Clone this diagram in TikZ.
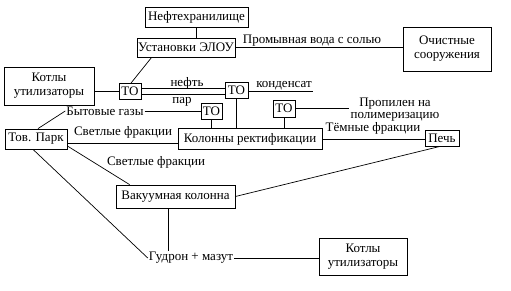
\documentclass[tikz,border=0pt]{standalone}
\usepackage{fontspec}
\setmainfont{Liberation Serif}
\usetikzlibrary{calc}
\begin{document}
\begin{tikzpicture}[x=1pt,y=-1pt,
  every node/.style={font=\fontsize{13}{14}\selectfont},
  box/.style={draw,line width=0.8pt,inner sep=0pt,align=center},
  lbl/.style={inner sep=1pt,align=center},
  conn/.style={line width=0.7pt}]
\useasboundingbox[fill=white] (0,0) rectangle (511,291);
% boxes
\node[box,minimum width=103,minimum height=20] (neft) at (196.5,17.5) {Нефтехранилище};
\node[box,minimum width=98,minimum height=19] (elou) at (186,47.5) {Установки ЭЛОУ};
\node[box,minimum width=88,minimum height=44] (ochist) at (447,49) {Очистные\\сооружения};
\node[box,minimum width=90,minimum height=38] (kotly1) at (49,86) {Котлы\\утилизаторы};
\node[box,minimum width=22,minimum height=16] (to1) at (130,91.5) {ТО};
\node[box,minimum width=23,minimum height=16] (to2) at (236.5,90) {ТО};
\node[box,minimum width=21,minimum height=16] (to3) at (211.5,111) {ТО};
\node[box,minimum width=22,minimum height=17] (to4) at (284,108.5) {ТО};
\node[box,minimum width=144,minimum height=21] (kolonny) at (250,139) {Колонны ректификации};
\node[box,minimum width=34,minimum height=16] (pech) at (442,138) {Печь};
\node[box,minimum width=62,minimum height=20] (tovpark) at (36,139) {Тов. Парк};
\node[box,minimum width=119,minimum height=23] (vakuum) at (175.5,196.5) {Вакуумная колонна};
\node[box,minimum width=88,minimum height=37] (kotly2) at (363,256.5) {Котлы\\утилизаторы};
% labels
\node[lbl] (promyv) at (312,41) {Промывная вода с солью};
\node[lbl] (neftl) at (187,83) {нефть};
\node[lbl] (par) at (182,102) {пар};
\node[lbl] (kond) at (284,85.5) {конденсат};
\node[lbl] (bytgaz) at (105,111) {Бытовые газы};
\node[lbl] (svet1) at (123,132) {Светлые фракции};
\node[lbl,font=\fontsize{13}{12}\selectfont] (propilen) at (395,110) {Пропилен на\\полимеризацию};
\node[lbl] (temnye) at (373,128) {Тёмные фракции};
\node[lbl] (svet2) at (156,162) {Светлые фракции};
\node[lbl] (gudron) at (191,258) {Гудрон + мазут};
\coordinate (kend) at (313,91);
% connectors
\draw[conn] (neft.south) -- (neft.south |- elou.north);
\draw[conn] (elou.east) -- (elou.east -| ochist.west);
\draw[conn] ($(elou.south west)+(15,0)$) -- ($(to1.north)+(1,0)$);
\draw[conn] (to1.west) -- (to1.west -| kotly1.east);
\draw[conn] (to1.east |- 0,88) -- (to2.west |- 0,88);
\draw[conn] (to1.east |- 0,94) -- (to2.west |- 0,94);
\draw[conn] (to2.east |- kend) -- (kend);
\draw[conn] (to2.south) -- (to2.south |- kolonny.north);
\draw[conn] (to3.south) -- (to3.south |- kolonny.north);
\draw[conn] (to4.south) -- (to4.south |- kolonny.north);
\draw[conn] (bytgaz.east) -- (to3.west);
\draw[conn] ($(tovpark.north)+(2,0)$) -- (bytgaz.west);
\draw[conn] (tovpark.east |- 0,143) -- (kolonny.west |- 0,143);
\draw[conn] (to4.east |- 0,108) -- (propilen.west |- 0,108);
\draw[conn] (kolonny.east) -- (kolonny.east -| pech.west);
\draw[conn] ($(pech.south)+(-2,0)$) -- (vakuum.east);
\draw[conn] (tovpark.east |- 0,146) -- ($(vakuum.north west)+(14,0)$);
\draw[conn] ($(tovpark.south)+(-3,0)$) -- (gudron.west);
\draw[conn] (vakuum.south -| 168,0) -- (gudron.north -| 168,0);
\draw[conn] (gudron.east) -- (gudron.east -| kotly2.west);
\end{tikzpicture}
\end{document}
